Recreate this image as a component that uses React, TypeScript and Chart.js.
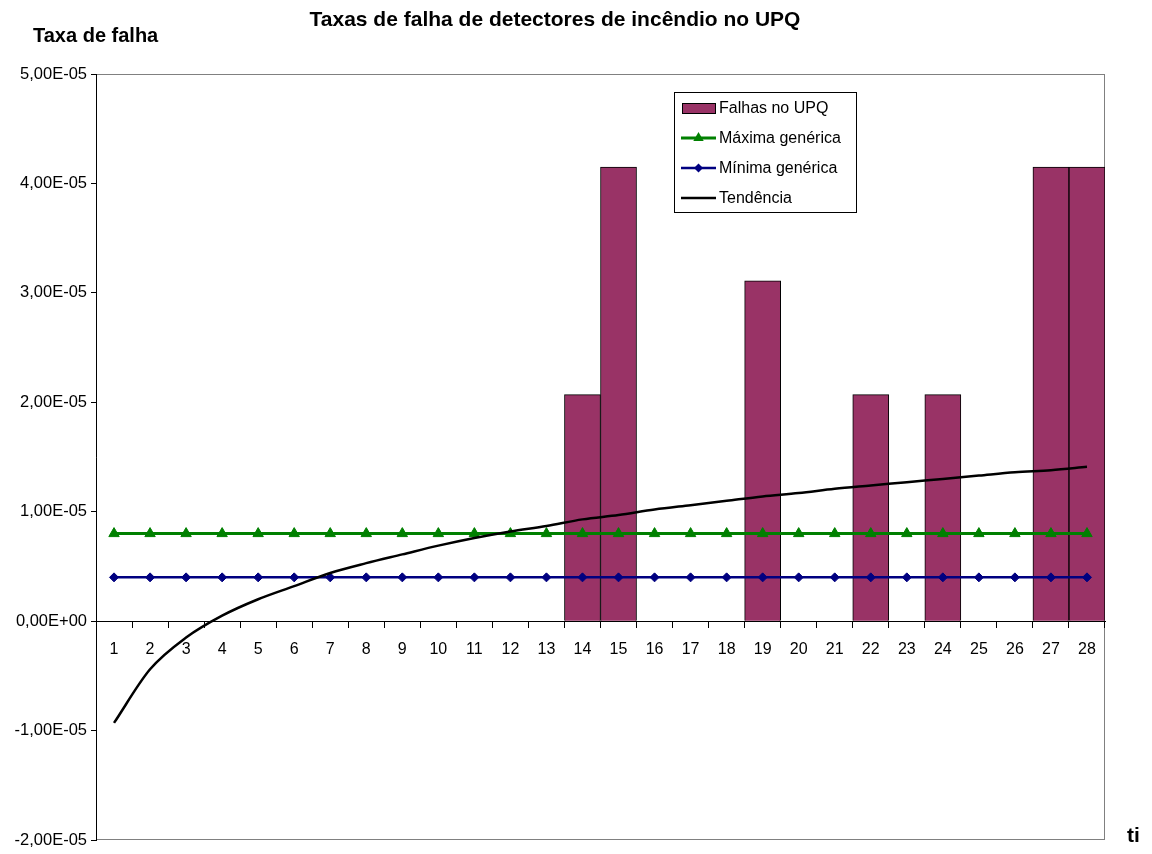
import React, { useEffect, useRef } from 'react';
import { Chart, registerables } from 'chart.js';

Chart.register(...registerables);

const CATEGORIES = ['1', '2', '3', '4', '5', '6', '7', '8', '9', '10', '11', '12', '13', '14', '15', '16', '17', '18', '19', '20', '21', '22', '23', '24', '25', '26', '27', '28'];

const FALHAS_UPQ = [null, null, null, null, null, null, null, null, null, null, null, null, null, 2.07e-5, 4.15e-5, null, null, null, 3.11e-5, null, null, 2.07e-5, null, 2.07e-5, null, null, 4.15e-5, 4.15e-5];

const MAXIMA_GENERICA = [8e-6, 8e-6, 8e-6, 8e-6, 8e-6, 8e-6, 8e-6, 8e-6, 8e-6, 8e-6, 8e-6, 8e-6, 8e-6, 8e-6, 8e-6, 8e-6, 8e-6, 8e-6, 8e-6, 8e-6, 8e-6, 8e-6, 8e-6, 8e-6, 8e-6, 8e-6, 8e-6, 8e-6];

const MINIMA_GENERICA = [4e-6, 4e-6, 4e-6, 4e-6, 4e-6, 4e-6, 4e-6, 4e-6, 4e-6, 4e-6, 4e-6, 4e-6, 4e-6, 4e-6, 4e-6, 4e-6, 4e-6, 4e-6, 4e-6, 4e-6, 4e-6, 4e-6, 4e-6, 4e-6, 4e-6, 4e-6, 4e-6, 4e-6];

const TENDENCIA = [-0.93e-5, -0.44e-5, -0.15e-5, 0.05e-5, 0.2e-5, 0.32e-5, 0.44e-5, 0.53e-5, 0.61e-5, 0.69e-5, 0.76e-5, 0.82e-5, 0.87e-5, 0.93e-5, 0.97e-5, 1.02e-5, 1.06e-5, 1.1e-5, 1.14e-5, 1.17e-5, 1.21e-5, 1.24e-5, 1.27e-5, 1.3e-5, 1.33e-5, 1.36e-5, 1.38e-5, 1.41e-5];

const Y_TICKS = [-2e-5, -1e-5, 0, 1e-5, 2e-5, 3e-5, 4e-5, 5e-5];

const TITLE = 'Taxas de falha de detectores de incêndio no UPQ';
const Y_TITLE = 'Taxa de falha';
const X_TITLE = 'ti';
const LABELS = ['Falhas no UPQ', 'Máxima genérica', 'Mínima genérica', 'Tendência'];

const FONT = "'Liberation Sans', Arial, Helvetica, sans-serif";
const BAR_COLOR = '#993366';
const GREEN = '#008000';
const NAVY = '#000080';

function fmtSci(v: number): string {
  if (Math.abs(v) < 1e-12) return '0,00E+00';
  const [m, e] = v.toExponential(2).split('e');
  const en = parseInt(e, 10);
  const sign = en < 0 ? '-' : '+';
  return m.replace('.', ',') + 'E' + sign + String(Math.abs(en)).padStart(2, '0');
}

const decorPlugin = {
  id: 'decor',
  beforeDraw(chart: any) {
    const { ctx, chartArea } = chart;
    const { left, top, right, bottom } = chartArea;
    ctx.save();
    ctx.strokeStyle = '#808080';
    ctx.lineWidth = 1;
    ctx.strokeRect(left + 0.5, top + 0.5, right - left - 1, bottom - top - 1);
    ctx.restore();
  },
  afterDraw(chart: any) {
    const ctx = chart.ctx;
    ctx.save();
    ctx.fillStyle = '#000';
    ctx.textBaseline = 'alphabetic';
    ctx.textAlign = 'center';
    ctx.font = `bold 21px ${FONT}`;
    ctx.fillText(TITLE, 555, 26);
    ctx.textAlign = 'left';
    ctx.font = `bold 20px ${FONT}`;
    ctx.fillText(Y_TITLE, 33, 42);
    ctx.font = `bold 21px ${FONT}`;
    ctx.fillText(X_TITLE, 1127, 842);

    // legend
    const lx = 674, ly = 92, lw = 182, lh = 120;
    ctx.fillStyle = '#fff';
    ctx.fillRect(lx, ly, lw, lh);
    ctx.strokeStyle = '#000';
    ctx.lineWidth = 1;
    ctx.strokeRect(lx + 0.5, ly + 0.5, lw, lh);
    const rows = [108, 138, 168, 198];
    const ds = chart.data.datasets;
    ds.forEach((d: any, i: number) => {
      const y = rows[i];
      if (d.type === 'bar') {
        ctx.fillStyle = d.backgroundColor;
        ctx.fillRect(682, y - 5, 33, 10);
        ctx.strokeStyle = '#000';
        ctx.lineWidth = 1;
        ctx.strokeRect(682.5, y - 4.5, 33, 10);
      } else {
        ctx.strokeStyle = d.borderColor;
        ctx.lineWidth = d.borderWidth;
        ctx.beginPath();
        ctx.moveTo(681, y);
        ctx.lineTo(716, y);
        ctx.stroke();
        const cx = 698.5;
        ctx.fillStyle = d.borderColor;
        if (d.pointStyle === 'triangle') {
          const r = 6;
          ctx.beginPath();
          ctx.moveTo(cx, y - r);
          ctx.lineTo(cx + r * 0.866, y + r * 0.5);
          ctx.lineTo(cx - r * 0.866, y + r * 0.5);
          ctx.closePath();
          ctx.fill();
        } else if (d.pointStyle === 'rectRot') {
          const r = 4.5;
          ctx.beginPath();
          ctx.moveTo(cx, y - r);
          ctx.lineTo(cx + r, y);
          ctx.lineTo(cx, y + r);
          ctx.lineTo(cx - r, y);
          ctx.closePath();
          ctx.fill();
        }
      }
      ctx.fillStyle = '#000';
      ctx.font = `16px ${FONT}`;
      ctx.textAlign = 'left';
      ctx.textBaseline = 'middle';
      ctx.fillText(d.label, 719, y + 1);
    });
    ctx.restore();
  },
};

export default function App() {
  const canvasRef = useRef<HTMLCanvasElement | null>(null);

  useEffect(() => {
    const canvas = canvasRef.current;
    if (!canvas) return;
    const chart = new Chart(canvas, {
      type: 'bar',
      data: {
        labels: CATEGORIES,
        datasets: [
          {
            type: 'bar',
            label: LABELS[0],
            data: FALHAS_UPQ,
            backgroundColor: BAR_COLOR,
            borderColor: '#000',
            borderWidth: 1,
            barPercentage: 1,
            categoryPercentage: 1,
            order: 4,
          } as any,
          {
            type: 'line',
            label: LABELS[1],
            data: MAXIMA_GENERICA,
            borderColor: GREEN,
            backgroundColor: GREEN,
            borderWidth: 3,
            pointStyle: 'triangle',
            pointRadius: 6,
            pointBackgroundColor: GREEN,
            pointBorderColor: GREEN,
            pointBorderWidth: 1,
            fill: false,
            order: 2,
          } as any,
          {
            type: 'line',
            label: LABELS[2],
            data: MINIMA_GENERICA,
            borderColor: NAVY,
            backgroundColor: NAVY,
            borderWidth: 2.5,
            pointStyle: 'rectRot',
            pointRadius: 4.5,
            pointBackgroundColor: NAVY,
            pointBorderColor: NAVY,
            pointBorderWidth: 1,
            fill: false,
            order: 3,
          } as any,
          {
            type: 'line',
            label: LABELS[3],
            data: TENDENCIA,
            borderColor: '#000',
            backgroundColor: '#000',
            borderWidth: 2.5,
            pointRadius: 0,
            cubicInterpolationMode: 'monotone',
            fill: false,
            order: 1,
          } as any,
        ],
      },
      options: {
        animation: false,
        responsive: false,
        devicePixelRatio: 1,
        layout: { padding: { top: 74, left: 0, right: 47, bottom: 14 } },
        plugins: {
          legend: { display: false },
          title: { display: false },
          tooltip: { enabled: false },
        },
        scales: {
          x: {
            type: 'category',
            position: { y: 0 } as any,
            offset: true,
            grid: {
              offset: true,
              drawOnChartArea: false,
              drawTicks: true,
              tickLength: 6,
              color: '#000',
              lineWidth: 1,
            },
            border: { display: true, color: '#000', width: 1 },
            ticks: {
              color: '#000',
              font: { family: FONT, size: 16 },
              padding: 13,
              maxRotation: 0,
              autoSkip: false,
            },
          },
          y: {
            type: 'linear',
            min: -2e-5,
            max: 5e-5,
            afterFit(scale: any) {
              scale.width = 96;
            },
            afterBuildTicks(scale: any) {
              scale.ticks = Y_TICKS.map((v) => ({ value: v }));
            },
            grid: {
              drawOnChartArea: false,
              drawTicks: true,
              tickLength: 5,
              color: '#000',
              lineWidth: 1,
            },
            border: { display: true, color: '#000', width: 1 },
            ticks: {
              color: '#000',
              font: { family: FONT, size: 16.5 },
              padding: 4,
              callback: (v: any) => fmtSci(Number(v)),
            },
          },
        },
      },
      plugins: [decorPlugin],
    });
    return () => chart.destroy();
  }, []);

  return (
    <div style={{ position: 'absolute', left: 0, top: 0, width: 1152, height: 854, background: '#fff' }}>
      <canvas ref={canvasRef} width={1152} height={854} style={{ display: 'block', width: 1152, height: 854 }} />
    </div>
  );
}
